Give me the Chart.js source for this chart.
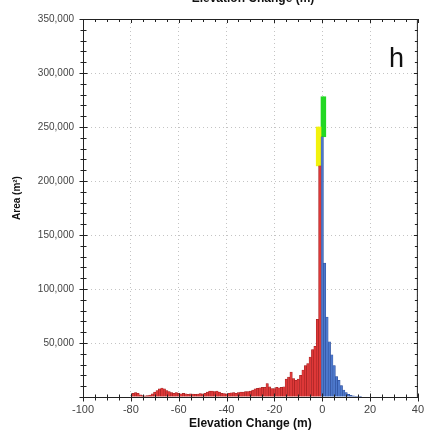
<!DOCTYPE html>
<html>
<head>
<meta charset="utf-8">
<script src="https://cdn.jsdelivr.net/npm/chart.js@4.4.0/dist/chart.umd.min.js"></script>
<style>
  html, body { margin: 0; padding: 0; background: #fff; }
  canvas { display: block; }
</style>
</head>
<body>
<canvas id="chart" width="430" height="444"></canvas>
<script>
const FONT = "'Liberation Sans', Arial, sans-serif"

// 1 m bins, centred on whole metres
const lossBins = [
  -79, -78, -77, -76, -75, -74, -73, -72, -71, -70,
  -69, -68, -67, -66, -65, -64, -63, -62, -61, -60,
  -59, -58, -57, -56, -55, -54, -53, -52, -51, -50,
  -49, -48, -47, -46, -45, -44, -43, -42, -41, -40,
  -39, -38, -37, -36, -35, -34, -33, -32, -31, -30,
  -29, -28, -27, -26, -25, -24, -23, -22, -21, -20,
  -19, -18, -17, -16, -15, -14, -13, -12, -11, -10,
  -9, -8, -7, -6, -5, -4, -3, -2, -1,
]
const lossArea = [
  3500, 4000, 3500, 2000, 1200, 1000, 1300, 1800, 3000, 4500,
  6000, 7500, 8300, 7500, 6000, 5000, 4000, 3500, 4000, 3500,
  3000, 3500, 3000, 2500, 3000, 2800, 2500, 2800, 3200, 3000,
  3500, 4500, 5500, 5500, 5000, 5500, 4500, 3500, 3200, 3000,
  3500, 3800, 4000, 3500, 4000, 4500, 4500, 5000, 5000, 5500,
  6500, 7500, 8000, 8500, 9000, 9000, 12500, 9500, 7800, 7700,
  9000, 8500, 9000, 9500, 16500, 18500, 23000, 17000, 15500, 16500,
  20000, 25000, 29000, 31000, 37000, 44000, 47000, 72000, 214000,
]

const gainBins = [0, 1, 2, 3, 4, 5, 6, 7, 8, 9, 10, 11, 12, 13, 14, 15, 16]
const gainArea = [
  241000, 124000, 74000, 51000, 39000, 29000, 19000, 15500, 10500,
  6500, 4000, 2500, 1500, 1000, 600, 400, 300,
]

// clipped tops of the two central bins
const lossCapBins = [-2, -1]
const lossCap = [[214000, 250000], [214000, 250000]]
const gainCapBins = [0, 1]
const gainCap = [[241000, 278000], [241000, 278000]]

const xTicks = [-100, -80, -60, -40, -20, 0, 20, 40]
const yMax = 350000
const yStep = 50000

const toPoints = (bins, values) => bins.map((x, i) => ({ x, y: values[i] }))

const frame = {
  id: 'frame',
  afterDraw(chart) {
    const { ctx, chartArea, scales } = chart
    const { left, right, top, bottom } = chartArea
    const { x, y } = scales
    ctx.save()
    ctx.strokeStyle = '#222'
    ctx.lineWidth = 1
    ctx.beginPath()
    ctx.moveTo(left + 0.5, top + 0.5)
    ctx.lineTo(right - 0.5, top + 0.5)
    ctx.lineTo(right - 0.5, bottom + 0.5)
    ctx.moveTo(left - 3, bottom + 0.5)
    ctx.lineTo(right, bottom + 0.5)
    ctx.moveTo(left + 0.5, top)
    ctx.lineTo(left + 0.5, bottom + 3)

    for (let v = 0; v <= yMax; v += 10000) {
      const py = Math.round(y.getPixelForValue(v)) + 0.5
      const len = v % yStep === 0 ? 4 : 3
      ctx.moveTo(left - len + 0.5, py)
      ctx.lineTo(left + len + 0.5, py)
      ctx.moveTo(right - len, py)
      ctx.lineTo(right, py)
    }
    for (let v = -100; v <= 40; v += 5) {
      const px = Math.round(x.getPixelForValue(v)) + 0.5
      const len = v % 20 === 0 ? 4 : 3
      ctx.moveTo(px, bottom - len + 0.5)
      ctx.lineTo(px, bottom + len + 0.5)
      ctx.moveTo(px, top)
      ctx.lineTo(px, top + len)
    }
    ctx.stroke()

    ctx.fillStyle = '#111'
    ctx.font = `bold 12px ${FONT}`
    ctx.textAlign = 'center'
    ctx.textBaseline = 'alphabetic'
    ctx.fillText('Elevation Change (m)', 253, 2)

    ctx.font = `27px ${FONT}`
    ctx.textAlign = 'left'
    ctx.fillText('h', 389, 67)

    ctx.translate(17, 198)
    ctx.rotate(-Math.PI / 2)
    ctx.font = `bold 10px ${FONT}`
    ctx.textAlign = 'center'
    ctx.textBaseline = 'middle'
    ctx.fillText('Area (m²)', 0, 0)
    ctx.restore()
  },
}

const barStyle = {
  grouped: false,
  barPercentage: 1,
  categoryPercentage: 1,
  borderSkipped: 'start',
}

new Chart(document.getElementById('chart'), {
  type: 'bar',
  data: {
    datasets: [
      {
        ...barStyle,
        label: 'Loss',
        data: toPoints(lossBins, lossArea),
        backgroundColor: '#de3838',
        borderColor: '#961c1c',
        borderWidth: 0.5,
      },
      {
        ...barStyle,
        label: 'Gain',
        data: toPoints(gainBins, gainArea),
        backgroundColor: '#4d78cc',
        borderColor: '#25448f',
        borderWidth: 0.5,
      },
      {
        ...barStyle,
        label: 'Loss cap',
        data: toPoints(lossCapBins, lossCap),
        backgroundColor: '#f2f20c',
        borderWidth: 0,
      },
      {
        ...barStyle,
        label: 'Gain cap',
        data: toPoints(gainCapBins, gainCap),
        backgroundColor: '#22d822',
        borderWidth: 0,
      },
    ],
  },
  options: {
    responsive: false,
    animation: false,
    devicePixelRatio: 1,
    layout: { padding: { top: 19, right: 10, left: 0, bottom: 0 } },
    plugins: {
      legend: { display: false },
      tooltip: { enabled: false },
    },
    scales: {
      x: {
        type: 'linear',
        min: -100,
        max: 40,
        offset: false,
        afterFit(scale) {
          scale.height = 47
        },
        afterBuildTicks(scale) {
          scale.ticks = xTicks.map((value) => ({ value }))
        },
        ticks: {
          color: '#444',
          font: { family: FONT, size: 11 },
          padding: 6,
          maxRotation: 0,
          callback: (v) => String(v),
        },
        grid: {
          offset: false,
          drawTicks: false,
          color: '#c4c4c4',
          lineWidth: 1,
        },
        border: { display: false, dash: [1, 3] },
        title: {
          display: true,
          text: 'Elevation Change (m)',
          color: '#111',
          font: { family: FONT, size: 12, weight: 'bold' },
          padding: { top: 0, bottom: 13 },
        },
      },
      y: {
        min: 0,
        max: yMax,
        afterFit(scale) {
          scale.width = 83
        },
        ticks: {
          stepSize: yStep,
          color: '#444',
          font: { family: FONT, size: 10 },
          padding: 9,
          callback: (v) => (v === 0 ? '' : v.toLocaleString('en-US')),
        },
        grid: {
          drawTicks: false,
          color: '#c4c4c4',
          lineWidth: 1,
        },
        border: { display: false, dash: [1, 3] },
      },
    },
  },
  plugins: [frame],
})
</script>
</body>
</html>
